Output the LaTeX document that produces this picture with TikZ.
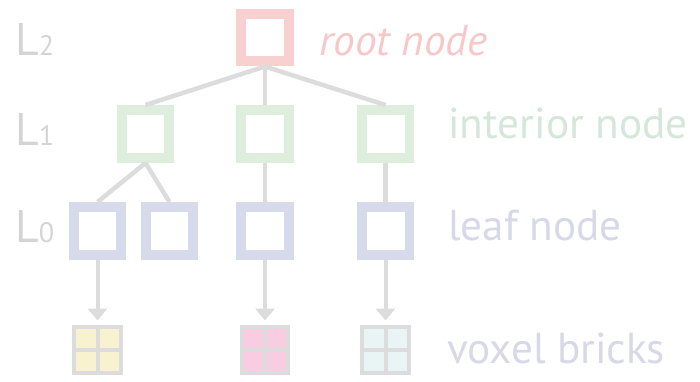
\documentclass[tikz,border=0pt]{standalone}
\usepackage{fontspec}
\setmainfont{PT Sans}
\usetikzlibrary{arrows.meta}

\definecolor{rootc}{HTML}{F9D0D0}
\definecolor{roottxt}{HTML}{F8C8C8}
\definecolor{intc}{HTML}{DDEEDC}
\definecolor{inttxt}{HTML}{D4E7D8}
\definecolor{leafc}{HTML}{D6DAEA}
\definecolor{leaftxt}{HTML}{D7D8E8}
\definecolor{edgec}{HTML}{DCDCDC}
\definecolor{lvlc}{HTML}{D4D4D4}
\definecolor{brickY}{HTML}{F9F2D0}
\definecolor{brickP}{HTML}{F8CDE2}
\definecolor{brickT}{HTML}{E9F4F4}

\tikzset{
    treebox/.style={draw, line width=0.2cm, minimum size=0.96cm, inner sep=0pt},
    rootbox/.style={treebox, draw=rootc},
    intbox/.style={treebox, draw=intc},
    leafbox/.style={treebox, draw=leafc},
    brick/.style={draw=edgec, line width=0.08cm, minimum size=0.94cm, inner sep=0pt,
        path picture={\draw[edgec, line width=0.08cm]
            (path picture bounding box.north) -- (path picture bounding box.south)
            (path picture bounding box.west) -- (path picture bounding box.east);}},
    link/.style={edgec, line width=0.09cm},
    ptr/.style={edgec, line width=0.08cm, -{Triangle[width=0.38cm, length=0.24cm]}, shorten >=0.08cm},
    lbl/.style={anchor=base west, inner sep=0pt, font=\fontsize{24.6}{30}\selectfont},
}
\newcommand{\lvl}[1]{L{\fontsize{16}{20}\selectfont #1}}

\begin{document}
\begin{tikzpicture}[x=0.02cm, y=-0.02cm]
    \useasboundingbox (0,0) rectangle (700,382);
    % tree
    \node[rootbox] (R) at (265, 37.5) {};
    \node[intbox] (I1) at (145.5, 134) {};
    \node[intbox] (I2) at (265, 134) {};
    \node[intbox] (I3) at (385.5, 134) {};
    \node[leafbox] (F1) at (97.5, 231) {};
    \node[leafbox] (F2) at (169.5, 231) {};
    \node[leafbox] (F3) at (265, 231) {};
    \node[leafbox] (F4) at (385.5, 231) {};
    \node[brick, fill=brickY] (B1) at (97.5, 350) {};
    \node[brick, fill=brickP] (B2) at (265, 350) {};
    \node[brick, fill=brickT] (B3) at (385.5, 350) {};
    % connectors
    \foreach \c in {I1, I2, I3}
        \draw[link] (R.south) -- (\c.north);
    \draw[link] (I1.south) -- (F1.north);
    \draw[link] (I1.south) -- (F2.north);
    \draw[link] (I2.south) -- (F3.north);
    \draw[link] (I3.south) -- (F4.north);
    \draw[ptr] (F1.south) -- (B1.north);
    \draw[ptr] (F3.south) -- (B2.north);
    \draw[ptr] (F4.south) -- (B3.north);
    % levels
    \foreach \l/\y in {2/55, 1/145, 0/242}
        \node[lbl, text=lvlc, font=\fontsize{26}{30}\selectfont] (L\l) at (15, \y) {\lvl{\l}};
    % legend
    \node[lbl, text=roottxt, font=\fontsize{24.6}{30}\selectfont\itshape] (tRoot) at (319, 55) {root node};
    \node[lbl, text=inttxt] (tInt) at (448, 138) {interior node};
    \node[lbl, text=leaftxt] (tLeaf) at (448, 240) {leaf node};
    \node[lbl, text=leaftxt] (tVox) at (447, 363) {voxel bricks};
\end{tikzpicture}
\end{document}
